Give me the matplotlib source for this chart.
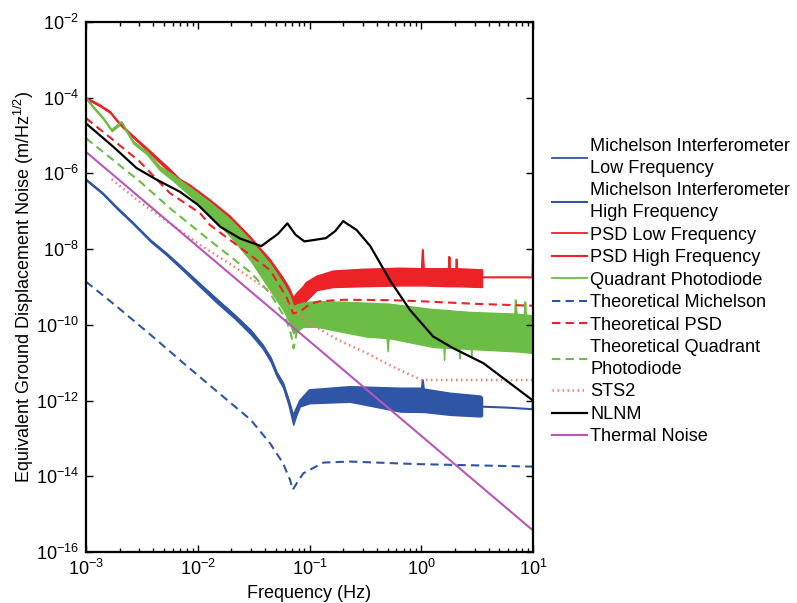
import numpy as np
import matplotlib.pyplot as plt
from matplotlib import ticker

# Arial-like look, as in the MATLAB original
plt.rcParams['font.family'] = 'Liberation Sans'
plt.rcParams['mathtext.fontset'] = 'custom'
plt.rcParams['mathtext.rm'] = 'Liberation Sans'
plt.rcParams['mathtext.it'] = 'Liberation Sans:italic'
plt.rcParams['mathtext.bf'] = 'Liberation Sans:bold'
plt.rcParams['mathtext.default'] = 'regular'
plt.rcParams['font.size'] = 13

# ---- measured: Michelson interferometer (upper / lower edge of the noise band)
mi_lf_f = [1.0e-3, 1.4e-3, 1.9e-3, 2.6e-3, 3.8e-3, 5.3e-3, 7.5e-3, 0.0105, 0.015, 0.0215,
           0.0298, 0.038, 0.045, 0.0508, 0.058, 0.065, 0.0715, 0.076, 0.082, 0.1,
           0.23, 0.65, 1.01, 1.03, 1.05, 1.8, 3.4, 3.5]
mi_lf_hi = [7.0e-7, 3.1e-7, 1.25e-7, 5.2e-8, 1.7e-8, 7.6e-9, 3.0e-9, 1.2e-9, 4.6e-10, 1.8e-10,
            7.2e-11, 3.0e-11, 1.35e-11, 5.6e-12, 2.9e-12, 1.05e-12, 4e-13, 6e-13, 1.0e-12, 1.9e-12,
            2.3e-12, 2.1e-12, 2.1e-12, 3.5e-12, 2.0e-12, 1.55e-12, 1.3e-12, 1.2e-12]
mi_lf_lo = [6.6e-7, 2.9e-7, 1.15e-7, 4.8e-8, 1.55e-8, 6.8e-9, 2.6e-9, 1.0e-9, 3.7e-10, 1.45e-10,
            5.6e-11, 2.4e-11, 1.05e-11, 4.4e-12, 2.2e-12, 7.5e-13, 2.3e-13, 4e-13, 7e-13, 8.5e-13,
            9.3e-13, 5.1e-13, 5e-13, 5e-13, 5e-13, 4.2e-13, 3.8e-13, 4e-13]
mi_hf_f = [3.5, 6.0, 9.9, 10.0]
mi_hf_y = [6.9e-13, 6.5e-13, 5.9e-13, 1.3e-12]

# ---- measured: position sensitive detector
psd_lf_f = [1.0e-3, 1.33e-3, 1.64e-3, 2.0e-3, 2.48e-3, 3.5e-3, 5.3e-3, 6.9e-3, 8.5e-3, 0.0128,
            0.0195, 0.0294, 0.0444, 0.058, 0.066, 0.0715, 0.078, 0.088, 0.094, 0.116,
            0.163, 0.3, 0.65, 1.01, 1.03, 1.05, 1.76, 1.78, 1.80, 2.05, 2.07, 2.09, 3.5]
psd_lf_hi = [1.0e-4, 6.4e-5, 4.3e-5, 2.1e-5, 1.15e-5, 4.6e-6, 1.5e-6, 7.0e-7, 4.9e-7, 2.0e-7,
             7.3e-8, 2.1e-8, 5.2e-9, 1.7e-9, 9e-10, 5e-10, 7e-10, 1.0e-9, 1.3e-9, 1.9e-9,
             2.6e-9, 2.9e-9, 3.1e-9, 3.0e-9, 9.6e-9, 3.0e-9, 3.0e-9, 6.3e-9, 3.0e-9, 3.0e-9, 5.4e-9, 3.0e-9, 2.8e-9]
psd_lf_lo = [9.4e-5, 6.0e-5, 4.0e-5, 1.95e-5, 1.05e-5, 4.1e-6, 1.25e-6, 5.4e-7, 3.3e-7, 1.2e-7,
             3.8e-8, 9.5e-9, 1.9e-9, 5e-10, 3e-10, 1.8e-10, 2.5e-10, 3e-10, 4.5e-10, 8.3e-10,
             1.0e-9, 1.05e-9, 1.1e-9, 1.1e-9, 1.1e-9, 1.1e-9, 1.05e-9, 1.05e-9, 1.05e-9, 1.05e-9, 1.05e-9, 1.05e-9, 1.0e-9]
psd_hf_f = [3.5, 6.0, 9.9, 10.0]
psd_hf_y = [1.8e-9, 1.8e-9, 1.8e-9, 8e-9]

# ---- measured: quadrant photodiode
qpd_f = [1.0e-3, 1.16e-3, 1.43e-3, 1.7e-3, 2.08e-3, 2.65e-3, 3.5e-3, 4.6e-3, 6.0e-3, 8.5e-3,
         0.0128, 0.0195, 0.0294, 0.0444, 0.058, 0.066, 0.0715, 0.078, 0.088, 0.116,
         0.324, 0.49, 0.5, 0.51, 1.28, 1.58, 1.6, 1.62, 2.18, 2.2, 2.22, 2.78, 2.8, 2.82,
         6.9, 7.0, 7.1, 8.4, 8.5, 8.6, 10.0]
qpd_hi = [1.0e-4, 5.8e-5, 2.9e-5, 1.4e-5, 2.3e-5, 6.9e-6, 3.7e-6, 1.5e-6, 9e-7, 4.2e-7,
          1.7e-7, 6e-8, 1.7e-8, 4e-9, 1.2e-9, 6e-10, 3e-10, 3.3e-10, 3.7e-10, 4.1e-10,
          3.7e-10, 3.5e-10, 3.5e-10, 3.5e-10, 2.5e-10, 2.4e-10, 2.4e-10, 2.4e-10, 2.2e-10, 2.2e-10, 2.2e-10, 2.1e-10, 2.1e-10, 2.1e-10,
          1.9e-10, 4.5e-10, 1.9e-10, 1.8e-10, 4.0e-10, 1.8e-10, 1.7e-10]
qpd_lo = [9.4e-5, 5.4e-5, 2.7e-5, 1.3e-5, 2.1e-5, 6.2e-6, 3.2e-6, 1.2e-6, 6.5e-7, 2.6e-7,
          8e-8, 2.2e-8, 5.2e-9, 8.3e-10, 2.5e-10, 1.2e-10, 6e-11, 7e-11, 8.9e-11, 8.9e-11,
          4.9e-11, 4.5e-11, 2e-11, 4.5e-11, 2.6e-11, 2.5e-11, 1.2e-11, 2.5e-11, 2.4e-11, 1.3e-11, 2.4e-11, 2.3e-11, 1.4e-11, 2.3e-11,
          2e-11, 2e-11, 2e-11, 1.9e-11, 1.9e-11, 1.9e-11, 1.8e-11]

# ---- theoretical curves
th_mi_f = [1e-3, 1.9e-3, 3.8e-3, 7.5e-3, 0.015, 0.0298, 0.0444, 0.058, 0.067, 0.0708,
           0.078, 0.088, 0.133, 0.23, 0.91, 10.0]
th_mi_y = [1.38e-9, 3.0e-10, 5.4e-11, 9.6e-12, 1.7e-12, 3.1e-13, 7.4e-14, 2.2e-14, 8e-15, 4.4e-15,
           7e-15, 1.2e-14, 2.3e-14, 2.45e-14, 2.1e-14, 1.8e-14]
th_psd_f = [1e-3, 3e-3, 5.65e-3, 0.0105, 0.0128, 0.0294, 0.0444, 0.0621, 0.0715, 0.08,
            0.088, 0.1, 0.124, 0.2, 0.5, 1.0, 3.0, 10.0]
th_psd_y = [2.9e-5, 2.1e-6, 3.0e-7, 8.9e-8, 4.4e-8, 7e-9, 2.8e-9, 5.5e-10, 2e-10, 2.2e-10,
            2.6e-10, 3.5e-10, 4.2e-10, 4.6e-10, 4.5e-10, 4.2e-10, 3.6e-10, 3.2e-10]
th_qpd_f = [1e-3, 3e-3, 5.65e-3, 0.0128, 0.0294, 0.0444, 0.062, 0.068, 0.072, 0.078,
            0.088, 0.12, 0.3, 1.0, 10.0]
th_qpd_y = [8.5e-6, 6.3e-7, 1.2e-7, 1.7e-8, 2.5e-9, 6.8e-10, 1.35e-10, 6e-11, 2.4e-11, 8e-11,
            1.7e-10, 2.1e-10, 2.0e-10, 1.7e-10, 1.4e-10]

sts2_f = [1.7e-3, 3e-3, 5.65e-3, 0.0105, 0.0223, 0.041, 0.0545, 0.1, 0.18, 0.324, 0.55, 1.0, 10.0]
sts2_y = [7e-7, 1.8e-7, 4.8e-8, 1.3e-8, 3.1e-9, 9e-10, 5.3e-10, 1.1e-10, 4e-11, 1.8e-11, 8e-12, 3.5e-12, 3.5e-12]

nlnm_f = [1e-3, 1.75e-3, 2.84e-3, 4.3e-3, 6.9e-3, 0.01, 0.0159, 0.024, 0.037, 0.052,
          0.0634, 0.075, 0.09, 0.14, 0.17, 0.2, 0.264, 0.35, 0.525, 0.79,
          1.28, 1.94, 3.6, 10.0]
nlnm_y = [2.1e-5, 5.1e-6, 1.38e-6, 6.8e-7, 3.3e-7, 1.5e-7, 3.9e-8, 1.9e-8, 1.2e-8, 2.5e-8,
          4.8e-8, 2.4e-8, 1.6e-8, 1.95e-8, 3e-8, 5.5e-8, 3.2e-8, 1.2e-8, 1.5e-9, 2.5e-10,
          4.9e-11, 2.4e-11, 9.7e-12, 1.0e-12]

thermal_f = [1e-3, 10.0]
thermal_y = [3.7e-6, 3.7e-16]

blue = '#2f56a6'
red = '#ec2227'
green = '#6cbd45'
magenta = '#bb55bb'
salmon = '#f47c6a'

fig = plt.figure(figsize=(7.97, 6.03), dpi=100)
ax = fig.add_axes([86/797, 51/603, 447/797, 530/603])
ax.set_xscale('log')
ax.set_yscale('log')


def band(f, hi, lo, color, label):
    ax.fill_between(f, lo, hi, color=color, linewidth=1.0, edgecolor=color)
    ax.plot(f, hi, color=color, lw=1.3, label=label)


band(mi_lf_f, mi_lf_hi, mi_lf_lo, blue, 'Michelson Interferometer\nLow Frequency')
ax.plot(mi_hf_f, mi_hf_y, color=blue, lw=1.5, label='Michelson Interferometer\nHigh Frequency')
band(psd_lf_f, psd_lf_hi, psd_lf_lo, red, 'PSD Low Frequency')
ax.plot(psd_hf_f, psd_hf_y, color=red, lw=1.5, label='PSD High Frequency')
band(qpd_f, qpd_hi, qpd_lo, green, 'Quadrant Photodiode')

ax.plot(th_mi_f, th_mi_y, color=blue, lw=1.5, dashes=(4, 2.5), label='Theoretical Michelson')
ax.plot(th_psd_f, th_psd_y, color=red, lw=1.5, dashes=(4, 2.5), label='Theoretical PSD')
ax.plot(th_qpd_f, th_qpd_y, color=green, lw=1.5, dashes=(4, 2.5), label='Theoretical Quadrant\nPhotodiode')
ax.plot(sts2_f, sts2_y, color=salmon, lw=1.8, dashes=(0.6, 1.4), label='STS2')
ax.plot(nlnm_f, nlnm_y, color='black', lw=1.6, label='NLNM')
ax.plot(thermal_f, thermal_y, color=magenta, lw=1.5, label='Thermal Noise')

ax.set_xlim(1e-3, 10)
ax.set_ylim(1e-16, 1e-2)
ax.yaxis.set_major_locator(ticker.FixedLocator(10.0 ** np.arange(-16, -1, 2)))
ax.yaxis.set_minor_locator(ticker.NullLocator())
ax.xaxis.set_major_locator(ticker.LogLocator(base=10, numticks=10))
ax.xaxis.set_minor_locator(ticker.LogLocator(base=10, subs=np.arange(2, 10), numticks=20))
ax.xaxis.set_minor_formatter(ticker.NullFormatter())
ax.tick_params(which='both', direction='in', top=True, right=True, width=1.0, pad=5)
ax.tick_params(which='major', length=5)
ax.tick_params(which='minor', length=3)
for s in ax.spines.values():
    s.set_linewidth(1.6)

ax.set_xlabel('Frequency (Hz)', labelpad=4)
ax.set_ylabel('Equivalent Ground Displacement Noise (m/Hz$^{1/2}$)', labelpad=0)

leg = ax.legend(loc='upper left', bbox_to_anchor=(552/797, 1 - 138/603), bbox_transform=fig.transFigure,
                frameon=False, borderpad=0, borderaxespad=0, handlelength=1.9, handletextpad=0.2,
                labelspacing=0.3, fontsize=13.1)
for t in leg.get_texts():
    t.set_linespacing(1.38)

fig.savefig('out.png', dpi=100)
